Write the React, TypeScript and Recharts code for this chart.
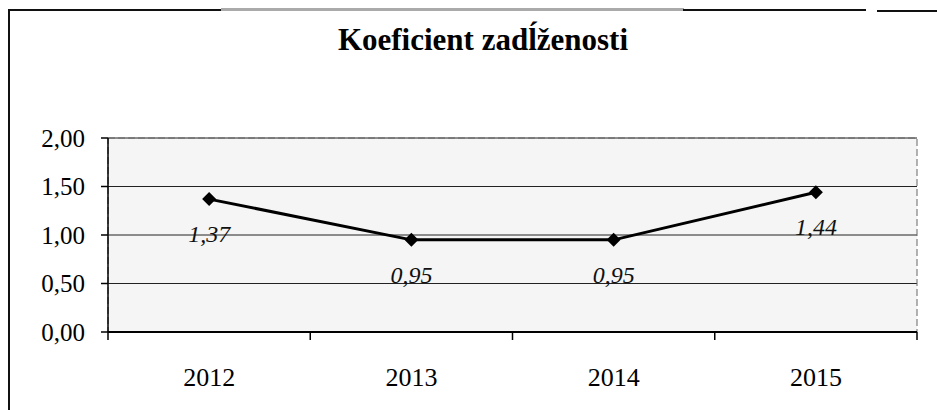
import React from 'react';
import { LineChart, Line, XAxis, YAxis, CartesianGrid, LabelList, ReferenceArea } from 'recharts';

const years = ['2012', '2013', '2014', '2015'];
const debtRatio = [1.37, 0.95, 0.95, 1.44];
const yTicks = [0, 0.5, 1, 1.5, 2];

const data = years.map((year, i) => ({ year, value: debtRatio[i] }));

const serif = '"Liberation Serif", "Times New Roman", serif';
const fmt = (v: number) => v.toFixed(2).replace('.', ',');

const Diamond = (props: any) => {
  const { cx, cy } = props;
  if (cx == null || cy == null) return null;
  const r = 7;
  return (
    <polygon
      points={`${cx},${cy - r} ${cx + r},${cy} ${cx},${cy + r} ${cx - r},${cy}`}
      fill="#000"
    />
  );
};

const YearTick = (props: any) => {
  const { x, y, payload, index } = props;
  const half = payload?.offset ?? 0;
  return (
    <g>
      <line x1={x - half} x2={x - half} y1={y} y2={y + 8} stroke="#000" strokeWidth={1.5} />
      {index === years.length - 1 && (
        <line x1={x + half} x2={x + half} y1={y} y2={y + 8} stroke="#000" strokeWidth={1.5} />
      )}
      <text x={x} y={y + 54} textAnchor="middle" fontFamily={serif} fontSize={26} fill="#000">
        {payload.value}
      </text>
    </g>
  );
};

const ValueLabel = (props: any) => {
  const { x, y, value } = props;
  return (
    <text x={x} y={y + 43} textAnchor="middle" fontFamily={serif} fontStyle="italic" fontSize={24} fill="#111">
      {fmt(value)}
    </text>
  );
};

export default function App() {
  return (
    <div style={{ position: 'absolute', left: 0, top: 0, width: 937, height: 410, background: '#fff', overflow: 'hidden' }}>
      {/* frame of the scanned chart */}
      <div style={{ position: 'absolute', left: 8, top: 9, width: 2, height: 401, background: '#111' }} />
      <div style={{ position: 'absolute', left: 8, top: 9, width: 214, height: 2, background: '#111' }} />
      <div style={{ position: 'absolute', left: 221, top: 8, width: 463, height: 3, background: '#aaa' }} />
      <div style={{ position: 'absolute', left: 683, top: 9, width: 183, height: 2, background: '#111' }} />
      <div style={{ position: 'absolute', left: 877, top: 10, width: 60, height: 2, background: '#111' }} />

      <div
        style={{
          position: 'absolute',
          left: 233,
          width: 500,
          top: 22,
          textAlign: 'center',
          fontFamily: serif,
          fontWeight: 'bold',
          fontSize: 31,
          color: '#000',
        }}
      >
        Koeficient zadĺženosti
      </div>

      <LineChart
        width={937}
        height={410}
        data={data}
        margin={{ top: 138, right: 20, bottom: 48, left: 0 }}
        style={{ position: 'absolute', left: 0, top: 0 }}
      >
        <CartesianGrid vertical={false} stroke="#222" fill="#f5f5f5" />
        <ReferenceArea y1={0} y2={2} fill="none" stroke="#666" strokeDasharray="7 3" />
        <XAxis
          dataKey="year"
          scale="band"
          height={30}
          axisLine={{ stroke: '#000', strokeWidth: 2 }}
          tickLine={false}
          tickSize={0}
          tickMargin={0}
          tick={<YearTick />}
          interval={0}
        />
        <YAxis
          domain={[0, 2]}
          ticks={yTicks}
          width={108}
          axisLine={{ stroke: '#000', strokeWidth: 1.5 }}
          tickLine={{ stroke: '#000', strokeWidth: 1.5 }}
          tickSize={7}
          tickMargin={16}
          tickFormatter={fmt}
          tick={{ fontFamily: serif, fontSize: 25, fill: '#000' }}
        />
        <Line
          dataKey="value"
          stroke="#000"
          strokeWidth={3}
          dot={<Diamond />}
          activeDot={false}
          isAnimationActive={false}
        >
          <LabelList dataKey="value" content={<ValueLabel />} />
        </Line>
      </LineChart>
    </div>
  );
}
